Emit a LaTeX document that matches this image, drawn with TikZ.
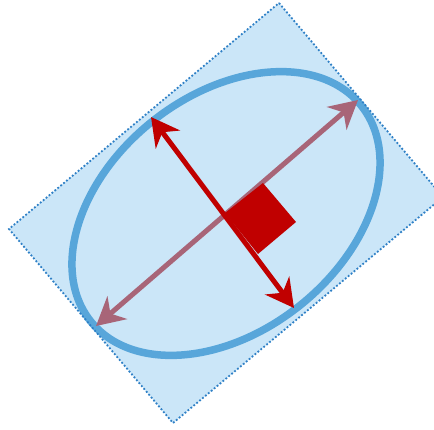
\documentclass[tikz,border=0pt]{standalone}
\usetikzlibrary{arrows.meta}
\definecolor{paneblue}{HTML}{CBE6F8}
\definecolor{edgeblue}{HTML}{2F80C6}
\definecolor{ringblue}{HTML}{58A6DA}
\definecolor{majorrose}{HTML}{A86578}
\definecolor{minorred}{HTML}{C00000}
\begin{document}
\begin{tikzpicture}[x=1pt, y=-1pt,
    axisarrow/.style={line width=5pt,
      {Stealth[length=28pt,width=30pt,inset=9pt]}-{Stealth[length=28pt,width=30pt,inset=9pt]}}]
        \clip (0,0) rectangle (434,429);
        \fill[paneblue] (279,3)--(443,197)--(173,423)--(9,229)--cycle;
        \draw[ringblue,line width=7.5pt] (226,213.5) ellipse[x radius=173, y radius=118, rotate=38.5];
        \draw[edgeblue,line width=1.8pt,dotted] (279,3)--(443,197)--(173,423)--(9,229)--cycle;
        \coordinate (majlow) at (96,326);
        \coordinate (majhigh) at (358,100);
        \coordinate (minup) at (151,117);
        \coordinate (mindown) at (294,308);
        \draw[axisarrow,majorrose] (majlow)--(majhigh);
        \fill[minorred] (225,213)--(263,183)--(296,222)--(258,254)--cycle;
        \draw[axisarrow,minorred] (minup)--(mindown);
\end{tikzpicture}
\end{document}
